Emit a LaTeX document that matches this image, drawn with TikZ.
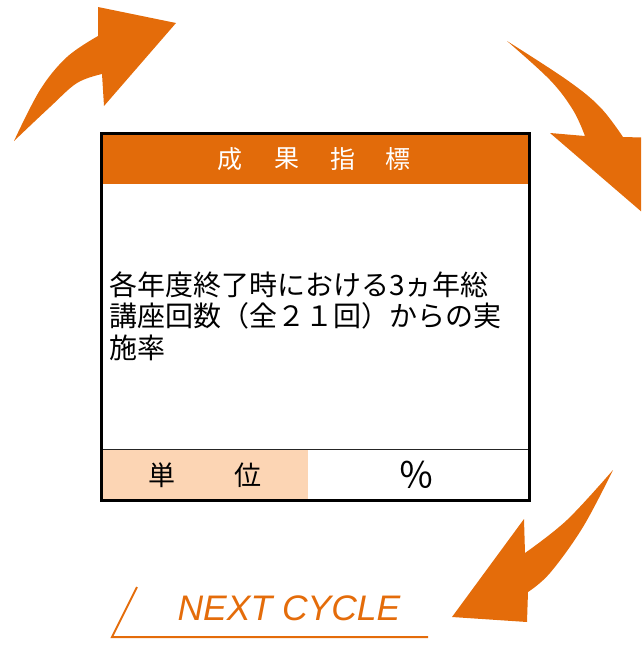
\documentclass[tikz,border=0pt]{standalone}
\usepackage{fontspec}
\setmainfont{Liberation Sans}
\newfontfamily\jp{Noto Sans CJK JP}
\definecolor{arr}{HTML}{E46C0A}
\definecolor{hdr}{HTML}{E26B0A}
\definecolor{unitbg}{HTML}{FCD5B4}
\tikzset{
  arrowshape/.style={fill=arr, draw=none},
  hdrtxt/.style={text=white, inner sep=0pt, font=\jp\fontsize{25}{30}\selectfont},
  bodytxt/.style={text=black, inner sep=0pt, anchor=base west, font=\jp\fontsize{28}{32}\selectfont},
  unittxt/.style={text=black, inner sep=0pt, font=\jp\fontsize{27}{32}\selectfont},
}
\begin{document}
\begin{tikzpicture}[x=1pt,y=-1pt]
\useasboundingbox (0,0) rectangle (641,646);
\clip (0,0) rectangle (641,646);
% arrows
\fill[arrowshape] plot[smooth, tension=0.6] coordinates {(14,141) (40,90) (67,57) (98,36)}
  -- (98,7) -- (176,23) -- (104,106) -- (102,74)
  -- plot[smooth, tension=0.6] coordinates {(102,74) (77,83) (50,107) (14,141)} -- cycle;
\fill[arrowshape] plot[smooth, tension=0.6] coordinates {(507,41) (567,80) (600,107) (623,137)}
  -- (700,139) -- (700,262) -- (550,133) -- (585,136)
  -- plot[smooth, tension=0.6] coordinates {(585,136) (573,110) (550,80) (507,41)} -- cycle;
\fill[arrowshape] plot[smooth, tension=0.6] coordinates {(613,470) (583,527) (550,573) (528,592)}
  -- (527,622) -- (452,617) -- (524,519) -- (525,553)
  -- plot[smooth, tension=0.6] coordinates {(525,553) (567,520) (613,470)} -- cycle;
% box
\fill[hdr] (103,135) rectangle (527.5,184);
\fill[unitbg] (103,449.5) rectangle (308,498.5);
\draw[line width=1.5pt, black!85] (103,449.5) -- (527.5,449.5);
\draw[line width=3pt] (101.5,133.5) rectangle (529,500);
% header
\node[hdrtxt] (h1) at (230,159) {成};
\node[hdrtxt] (h2) at (287,159) {果};
\node[hdrtxt] (h3) at (343,159) {指};
\node[hdrtxt] (h4) at (398,159) {標};
% body
\node[bodytxt] (b1) at (109,295) {各年度終了時における3ヵ年総};
\node[bodytxt] (b2) at (109,326.5) {講座回数（全２１回）からの実};
\node[bodytxt] (b3) at (109,358) {施率};
% unit row
\node[unittxt] (u1) at (162,475) {単};
\node[unittxt] (u2) at (248,475) {位};
\node[unittxt, font=\jp\fontsize{36}{40}\selectfont] (u3) at (416,475) {％};
% next cycle
\node[text=arr, inner sep=0pt, font=\itshape\fontsize{35.5}{40}\selectfont] (nc) at (289,608) {NEXT CYCLE};
\coordinate (l1) at (137,587);
\coordinate (l2) at (112,637);
\coordinate (l3) at (428,637);
\draw[arr, line width=2pt] (l1) -- (l2) -- (l3);
\end{tikzpicture}
\end{document}
